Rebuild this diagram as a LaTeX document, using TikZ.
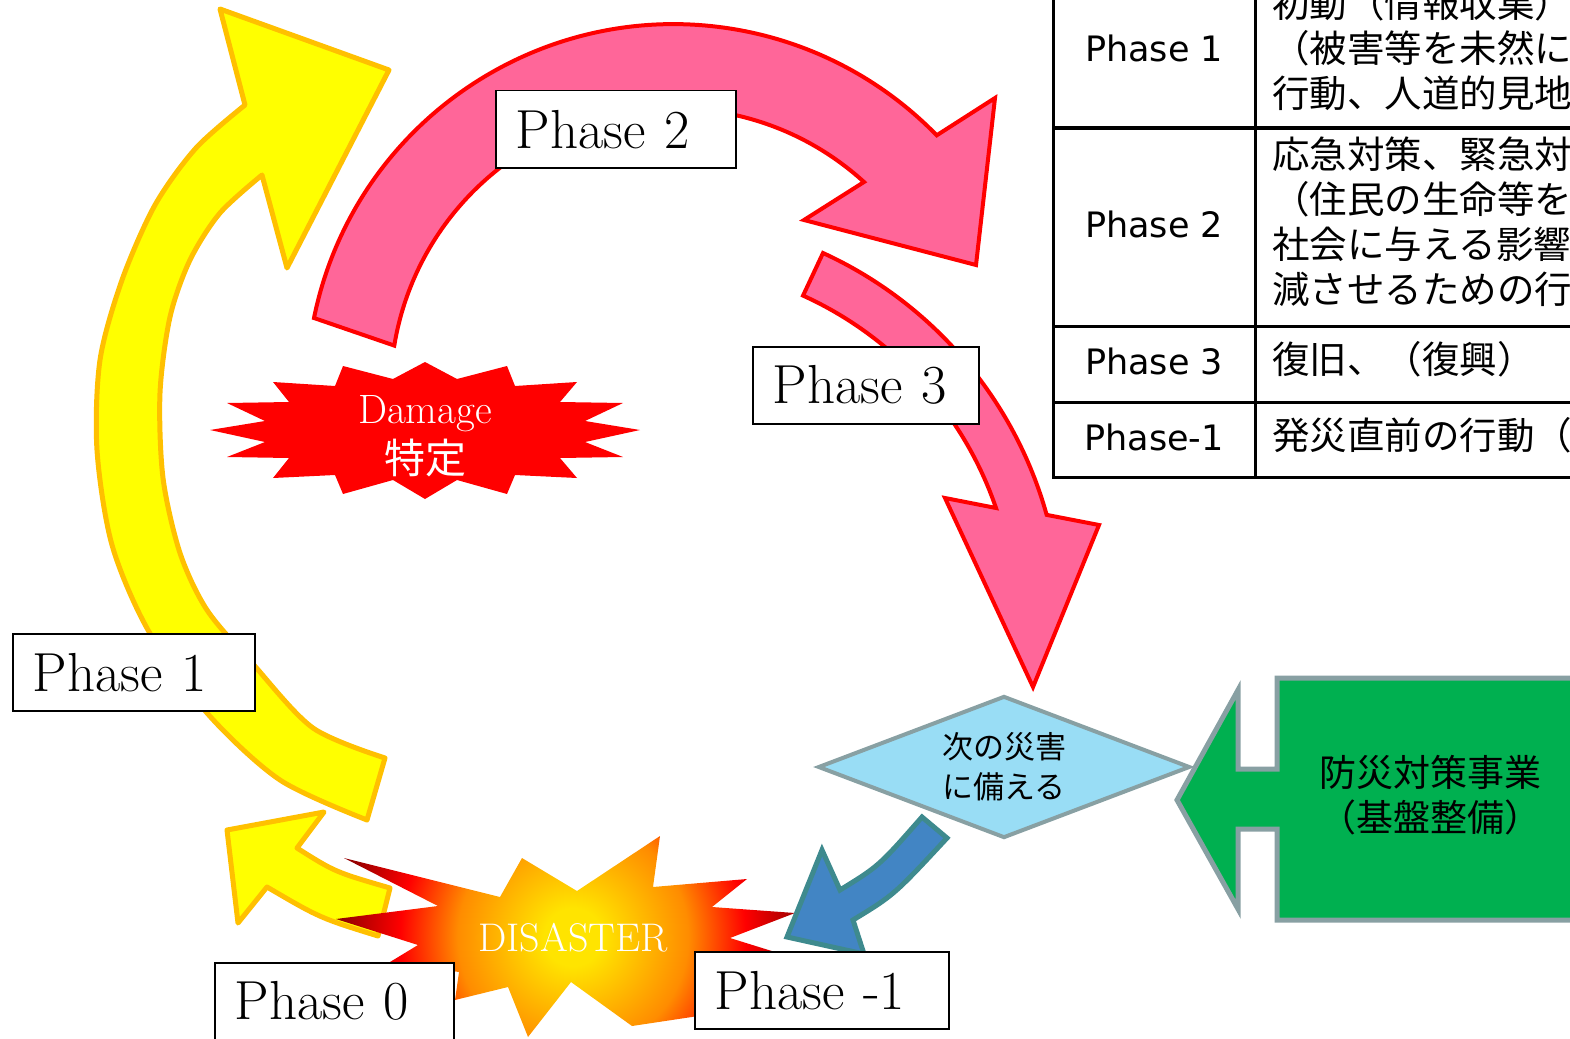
\documentclass[tikz,border=0pt]{standalone}
\usepackage{fontspec}
\usepackage{tikz}
\usetikzlibrary{positioning,shapes.geometric}
\newfontfamily\jpfont{Noto Sans CJK JP}
\newfontfamily\tblfont{DejaVu Sans}
\definecolor{arrowyellow}{RGB}{255,255,0}
\definecolor{yellowline}{RGB}{255,192,0}
\definecolor{arrowpink}{RGB}{255,102,153}
\definecolor{arrowblue}{RGB}{66,133,196}
\definecolor{blueline}{RGB}{62,138,142}
\definecolor{arrowgreen}{RGB}{0,176,80}
\definecolor{greyline}{RGB}{136,160,163}
\definecolor{diamondblue}{RGB}{153,221,245}
\definecolor{burstyellow}{RGB}{255,228,0}
\definecolor{burstorange}{RGB}{255,140,0}
\definecolor{burstdark}{RGB}{150,0,0}
\pgfdeclareradialshading{disasterglow}{\pgfpoint{0bp}{0bp}}{color(0bp)=(burstyellow); color(3bp)=(burstyellow); color(12bp)=(burstorange); color(18bp)=(red); color(24bp)=(burstdark); color(50bp)=(burstdark)}
\tikzset{
    phasebox/.style={rectangle, draw, fill=white, line width=1.5pt, anchor=north west, align=left, inner xsep=20pt, inner ysep=0pt, minimum height=77pt, font=\fontsize{55}{60}\selectfont},
    yellowarrow/.style={draw=yellowline, fill=arrowyellow, line width=5pt, line join=round},
    pinkarrow/.style={draw=red, fill=arrowpink, line width=4pt},
    bluearrow/.style={draw=blueline, fill=arrowblue, line width=5pt},
    greenarrow/.style={draw=greyline, fill=arrowgreen, line width=5pt},
    tblline/.style={line width=3pt},
    tblhead/.style={inner sep=0pt, font=\tblfont\fontsize{35}{44}\selectfont},
    tbltext/.style={anchor=west, align=left, inner sep=0pt, font=\jpfont\fontsize{37.5}{45}\selectfont}
}
\begin{document}
\begin{tikzpicture}[x=1pt, y=-1pt]
    \useasboundingbox (0,0) rectangle (1570,1038);
    \clip (0,0) rectangle (1570,1038);

    % table on the right
    \draw[tblline] (1053,-5) -- (1053,477) -- (1580,477);
    \draw[tblline] (1255,-5) -- (1255,477);
    \draw[tblline] (1053,128) -- (1580,128);
    \draw[tblline] (1053,326) -- (1580,326);
    \draw[tblline] (1053,402) -- (1580,402);
    \node[tblhead] (row1) at (1154,48) {Phase 1};
    \node[tblhead] (row2) at (1154,224) {Phase 2};
    \node[tblhead] (row3) at (1154,361) {Phase 3};
    \node[tblhead] (row4) at (1154,437) {Phase-1};
    \node[tbltext] (cell1) at (1272,48) {初動（情報収集）\\（被害等を未然に\\行動、人道的見地};
    \node[tbltext] (cell2) at (1272,222) {応急対策、緊急対\\（住民の生命等を\\社会に与える影響\\減させるための行};
    \node[tbltext] (cell3) at (1272,359) {復旧、（復興）};
    \node[tbltext] (cell4) at (1272,435) {発災直前の行動（};

    % phase 1 arrow
    \draw[yellowarrow] plot[smooth] coordinates {(367,820) (280,780) (207,713) (148,630) (112,545) (97,450) (100,360) (122,280) (155,205) (196,148) (245,105)}
        -- (220,9) -- (389,70) -- (287,268)
        -- plot[smooth] coordinates {(262,175) (220,213) (190,260) (170,317) (160,393) (163,478) (180,553) (207,610) (253,664) (313,728) (385,758)} -- cycle;
    % phase 0 arrow
    \draw[yellowarrow] (227,830) -- (324,812) -- (297,848) .. controls (335,872) .. (390,888)
        -- (378,936) .. controls (320,918) .. (267,887) -- (238,923) -- cycle;

    % phase 2 and phase 3 arrows
    \draw[pinkarrow] (314,318) arc[start angle=191.5, end angle=315.8, radius=367]
        -- (995,98) -- (976,265) -- (804,220)
        -- (864,182) arc[start angle=312.3, end angle=189.3, radius=283] -- cycle;
    \draw[pinkarrow] (823,253) arc[start angle=294.6, end angle=344.4, radius=409]
        -- (1099,525) -- (1033,687) -- (945,498)
        -- (996,508) arc[start angle=341.1, end angle=294.4, radius=362] -- cycle;

    % damage burst
    \fill[red] (210,430) -- (265,421) -- (227,403) -- (289,402) -- (273,382) -- (335,386) -- (343,366) -- (393,379)
        -- (425,362) -- (457,379) -- (507,366) -- (515,386) -- (577,382) -- (560,402) -- (623,403) -- (585,421)
        -- (640,430) -- (585,442) -- (623,457) -- (560,458) -- (577,478) -- (515,475) -- (507,494) -- (457,480)
        -- (425,499) -- (393,480) -- (343,494) -- (335,475) -- (273,478) -- (289,458) -- (227,457) -- (265,442) -- cycle;
    \node[text=white, align=center, font=\fontsize{41}{50}\selectfont] (damage) at (425,436) {Damage\\{\jpfont 特定}};

    % green arrow and diamond
    \draw[greenarrow] (1177,800) -- (1238,690) -- (1238,769) -- (1277,769) -- (1277,678) -- (1590,678)
        -- (1590,920) -- (1277,920) -- (1277,829) -- (1238,829) -- (1238,909) -- cycle;
    \node[align=center, font=\jpfont\fontsize{37}{45}\selectfont] (works) at (1430,795) {防災対策事業\\（基盤整備）};
    \node[diamond, aspect=2.62, draw=greyline, fill=diamondblue, line width=4pt, minimum width=372pt, minimum height=142pt, inner sep=0pt, align=center, font=\jpfont\fontsize{31}{40}\selectfont] (prepare) at (1004,767) {次の災害\\に備える};

    % disaster burst
    \begin{scope}
        \clip (336,919) -- (438,906) -- (344,858) -- (500,897) -- (522,858) -- (577,891)
            -- (660,836) -- (653,887) -- (747,879) -- (712,907) -- (795,913) -- (730,938) -- (775,952) -- (712,972)
            -- (705,1015) -- (632,1026) -- (571,982) -- (528,1037) -- (508,987) -- (455,1000) -- (459,972)
            -- (390,962) -- (418,945) -- cycle;
        \shade[shading=disasterglow] (333,697) rectangle (813,1177);
    \end{scope}
    \node[text=white, font=\fontsize{40}{44}\selectfont] (disaster) at (573,938) {DISASTER};

    % phase -1 arrow
    \draw[bluearrow] (922,817) .. controls (879,866) .. (840,890) -- (822,850) -- (787,937) -- (864,954)
        -- (853,920) .. controls (894,895) .. (947,838) -- cycle;

    % phase labels
    \node[phasebox, text width=200pt] (ph2) at (495,90) {Phase 2};
    \node[phasebox, text width=186pt] (ph3) at (752,346) {Phase 3};
    \node[phasebox, text width=202pt] (ph1) at (12,633) {Phase 1};
    \node[phasebox, text width=199pt] (ph0) at (214,962) {Phase 0};
    \node[phasebox, text width=214pt] (phm1) at (694,951) {Phase -1};
\end{tikzpicture}
\end{document}
